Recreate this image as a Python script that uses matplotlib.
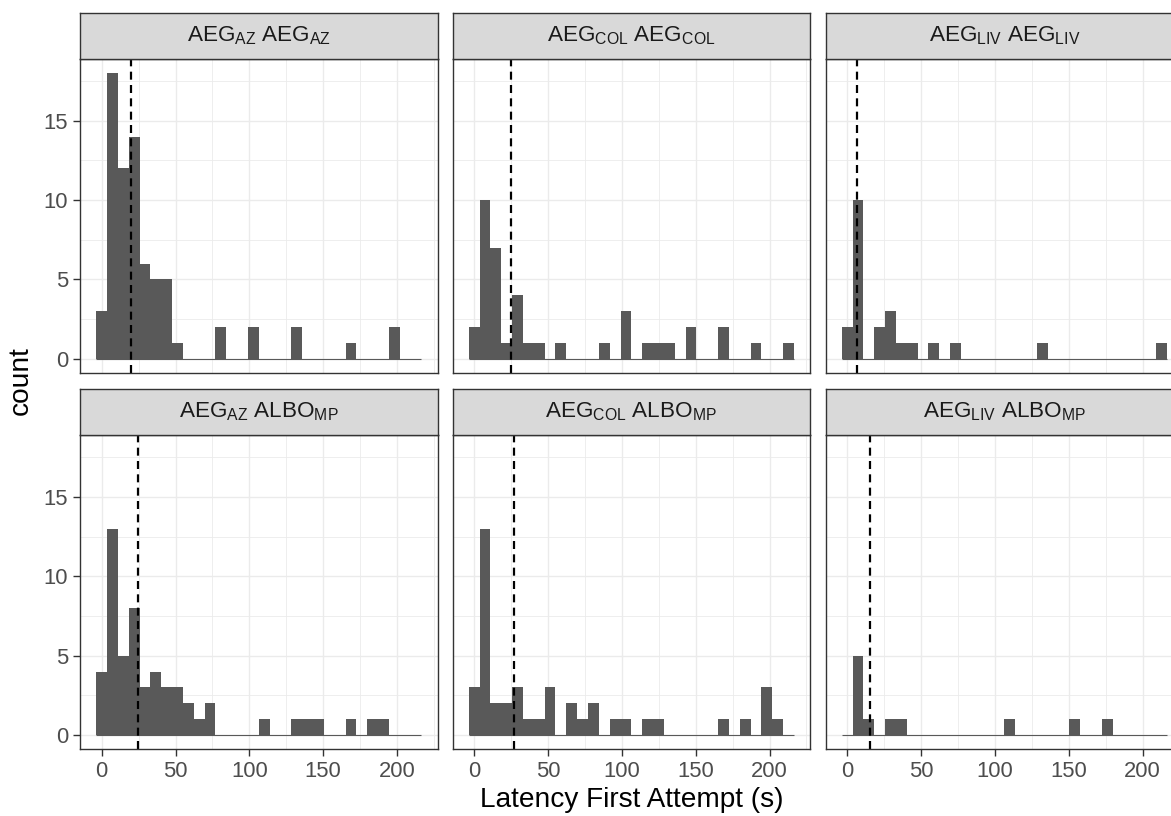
import numpy as np
import matplotlib
matplotlib.use('Agg')
import matplotlib.pyplot as plt
from matplotlib.ticker import FixedLocator

plt.rcParams['font.family'] = ['Liberation Sans', 'DejaVu Sans']
plt.rcParams['mathtext.fontset'] = 'custom'
plt.rcParams['mathtext.rm'] = 'Liberation Sans'
plt.rcParams['mathtext.it'] = 'Liberation Sans'
plt.rcParams['mathtext.default'] = 'regular'

# 30 bins of equal width, centred on multiples of the width
BIN_W = 7.34
N_BINS = 30

panel_labels = [
    r'AEG$_{AZ}$ AEG$_{AZ}$', r'AEG$_{COL}$ AEG$_{COL}$', r'AEG$_{LIV}$ AEG$_{LIV}$',
    r'AEG$_{AZ}$ ALBO$_{MP}$', r'AEG$_{COL}$ ALBO$_{MP}$', r'AEG$_{LIV}$ ALBO$_{MP}$',
]

counts_az_aeg   = [3, 18, 12, 14, 6, 5, 5, 1, 0, 0, 0, 2, 0, 0, 2, 0, 0, 0, 2, 0, 0, 0, 0, 1, 0, 0, 0, 2, 0, 0]
counts_col_aeg  = [2, 10, 7, 1, 4, 1, 1, 0, 1, 0, 0, 0, 1, 0, 3, 0, 1, 1, 1, 0, 2, 0, 0, 2, 0, 0, 1, 0, 0, 1]
counts_liv_aeg  = [2, 10, 0, 2, 3, 1, 1, 0, 1, 0, 1, 0, 0, 0, 0, 0, 0, 0, 1, 0, 0, 0, 0, 0, 0, 0, 0, 0, 0, 1]
counts_az_albo  = [4, 13, 5, 8, 3, 4, 3, 3, 2, 1, 2, 0, 0, 0, 0, 1, 0, 0, 1, 1, 1, 0, 0, 1, 0, 1, 1, 0, 0, 0]
counts_col_albo = [3, 13, 2, 2, 3, 1, 1, 3, 0, 2, 1, 2, 0, 1, 1, 0, 1, 1, 0, 0, 0, 0, 0, 1, 0, 1, 0, 3, 1, 0]
counts_liv_albo = [0, 5, 1, 0, 1, 1, 0, 0, 0, 0, 0, 0, 0, 0, 0, 1, 0, 0, 0, 0, 0, 1, 0, 0, 1, 0, 0, 0, 0, 0]

all_counts = [counts_az_aeg, counts_col_aeg, counts_liv_aeg,
              counts_az_albo, counts_col_albo, counts_liv_albo]

# mean latency per pairing (dashed line)
mean_latency = [19.6, 24.6, 6.6, 24.6, 26.7, 15.6]

x_ticks = [0, 50, 100, 150, 200]
y_ticks = [0, 5, 10, 15]

BAR = '#595959'
GRID = '#EBEBEB'
EDGE = '#333333'
STRIP = '#D9D9D9'

W, H = 1171, 816
fig = plt.figure(figsize=(W / 100, H / 100), dpi=100)

col_left = [80.0, 452.5, 825.5]
row_top = [58.8, 435.0]
panel_w = 357.7
panel_h = 314.3
strip_h = 46.0


def px_axes(left, top, w, h):
    return fig.add_axes([left / W, 1 - (top + h) / H, w / W, h / H])


centers = np.arange(N_BINS) * BIN_W
lo, hi = -BIN_W / 2, (N_BINS - 0.5) * BIN_W
xpad = 0.05 * (hi - lo)
ymax = max(max(c) for c in all_counts)

for i, (label, counts, mu) in enumerate(zip(panel_labels, all_counts, mean_latency)):
    r, c = divmod(i, 3)
    ax = px_axes(col_left[c], row_top[r], panel_w, panel_h)
    ax.set_xlim(lo - xpad, hi + xpad)
    ax.set_ylim(-0.05 * ymax, 1.05 * ymax)

    ax.xaxis.set_major_locator(FixedLocator(x_ticks))
    ax.xaxis.set_minor_locator(FixedLocator([25, 75, 125, 175, 225]))
    ax.yaxis.set_major_locator(FixedLocator(y_ticks))
    ax.yaxis.set_minor_locator(FixedLocator([2.5, 7.5, 12.5, 17.5]))
    ax.grid(which='major', color=GRID, lw=1.0)
    ax.grid(which='minor', color=GRID, lw=0.6)
    ax.set_axisbelow(True)

    ax.hlines(0, lo, hi, color=BAR, lw=0.8, zorder=2)
    ax.bar(centers, counts, width=BIN_W, color=BAR, linewidth=0, zorder=2)
    ax.axvline(mu, color='black', lw=1.6, linestyle=(0, (3.6, 2.4)), zorder=3)

    for s in ax.spines.values():
        s.set_color(EDGE)
        s.set_linewidth(1.0)
        s.set_zorder(4)

    ax.tick_params(which='minor', length=0)
    ax.tick_params(which='major', length=5.0, width=1.0, color=EDGE,
                   labelcolor='#4D4D4D', labelsize=15.8, pad=3.6)
    if c != 0:
        ax.tick_params(left=False, labelleft=False)
    if r != 1:
        ax.tick_params(bottom=False, labelbottom=False)

    # facet strip
    st = px_axes(col_left[c], row_top[r] - strip_h, panel_w, strip_h)
    st.set_facecolor(STRIP)
    st.set_xticks([])
    st.set_yticks([])
    for s in st.spines.values():
        s.set_color(EDGE)
        s.set_linewidth(1.0)
    st.text(0.5, 0.5, label, ha='center', va='center', fontsize=16.2,
            color='#1A1A1A', transform=st.transAxes)

fig.text(21 / W, 1 - 381 / H, 'count', rotation=90, ha='center', va='center',
         fontsize=20.2)
fig.text((col_left[0] + col_left[2] + panel_w) / 2 / W, 1 - 800 / H,
         'Latency First Attempt (s)', ha='center', va='center', fontsize=20.2)

fig.savefig('out.png', dpi=100)
